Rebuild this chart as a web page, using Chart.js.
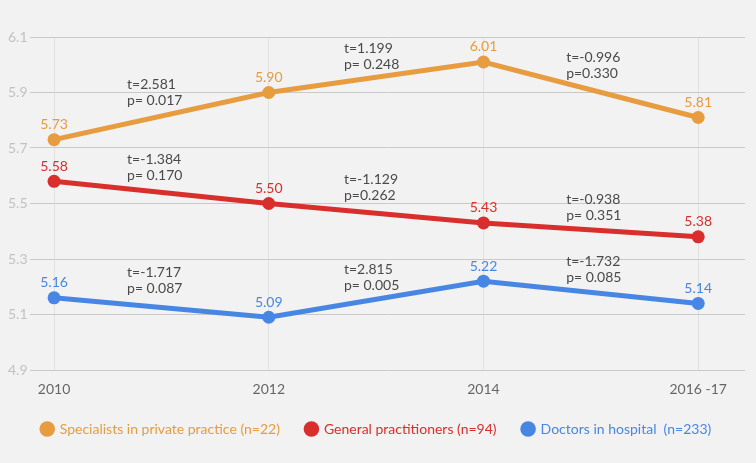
<!DOCTYPE html>
<html>
<head>
<meta charset="utf-8">
<script src="https://cdn.jsdelivr.net/npm/chart.js@4.4.1/dist/chart.umd.min.js"></script>
<style>
  html, body { margin: 0; padding: 0; background: #f2f2f2; }
  #wrap { width: 756px; height: 463px; }
</style>
</head>
<body>
<div id="wrap"><canvas id="myChart"></canvas></div>
<script>
const years = ['2010', '2012', '2014', '2016 -17'];
const yTicks = [4.9, 5.1, 5.3, 5.5, 5.7, 5.9, 6.1];

const seriesNames = [
  'Specialists in private practice (n=22)',
  'General practitioners (n=94)',
  'Doctors in hospital  (n=233)'
];
const specialists = [5.73, 5.90, 6.01, 5.81];
const generalPract = [5.58, 5.50, 5.43, 5.38];
const hospital = [5.16, 5.09, 5.22, 5.14];

// t / p statistics for each step between surveys
const specT = ['2.581', '1.199', '-0.996'];
const specP = ['0.017', '0.248', '0.330'];
const gpT = ['-1.384', '-1.129', '-0.938'];
const gpP = ['0.170', '0.262', '0.351'];
const hospT = ['-1.717', '2.815', '-1.732'];
const hospP = ['0.087', '0.005', '0.085'];

const colors = ['#e69c3f', '#d92f2c', '#4787e3'];
const FONT = 'Lato, "Noto Sans", sans-serif';

const allT = [specT, gpT, hospT];
const allP = [specP, gpP, hospP];

// label placement: how far (px) the p-line sits above the segment, and where along it
const statLift = [[23, 17, 10], [13, 15, 13], [16, 19, 12]];
const statFrac = [0.34, 0.35, 0.385];

const statsPlugin = {
  id: 'stats',
  afterDatasetsDraw(chart) {
    const ctx = chart.ctx;
    const xs = chart.scales.x, ys = chart.scales.y;
    ctx.save();
    ctx.textBaseline = 'middle';
    chart.data.datasets.forEach((ds, di) => {
      const pts = ds.data;
      // value labels
      ctx.font = '14px ' + FONT;
      ctx.fillStyle = colors[di];
      ctx.textAlign = 'center';
      pts.forEach(p => {
        ctx.fillText(p.y.toFixed(2), xs.getPixelForValue(p.x), ys.getPixelForValue(p.y) - 15);
      });
      // t / p labels
      ctx.fillStyle = '#4a4a4a';
      ctx.textAlign = 'left';
      for (let i = 0; i < pts.length - 1; i++) {
        const f = statFrac[i];
        const xv = pts[i].x + f;
        const yv = pts[i].y + (pts[i + 1].y - pts[i].y) * f;
        const px = xs.getPixelForValue(xv);
        const py = ys.getPixelForValue(yv) - statLift[di][i];
        ctx.fillText('t=' + allT[di][i], px, py - 16);
        const sep = (di === 0 && i === 2) || (di === 1 && i === 1) ? 'p=' : 'p= ';
        ctx.fillText(sep + allP[di][i], px, py);
      }
    });
    ctx.restore();
  }
};

const mkData = vals => vals.map((v, i) => ({x: i, y: v}));

new Chart(document.getElementById('myChart'), {
  type: 'line',
  data: {
    datasets: [specialists, generalPract, hospital].map((vals, i) => ({
      label: seriesNames[i],
      data: mkData(vals),
      borderColor: colors[i],
      backgroundColor: colors[i],
      borderWidth: 5,
      pointRadius: 6.5,
      pointHoverRadius: 6.5,
      pointBorderWidth: 0,
      tension: 0
    }))
  },
  options: {
    responsive: true,
    maintainAspectRatio: false,
    animation: false,
    layout: { padding: { top: 37, right: 11, left: 8, bottom: 17 } },
    plugins: {
      tooltip: { enabled: false },
      legend: {
        position: 'bottom',
        labels: {
          usePointStyle: true,
          pointStyle: 'circle',
          boxWidth: 11,
          boxHeight: 11,
          padding: 26,
          font: { family: FONT, size: 14 },
          generateLabels(chart) {
            return chart.data.datasets.map((ds, i) => ({
              text: ds.label,
              fillStyle: colors[i],
              strokeStyle: colors[i],
              fontColor: colors[i],
              lineWidth: 0,
              pointStyle: 'circle',
              datasetIndex: i
            }));
          }
        }
      }
    },
    scales: {
      x: {
        type: 'linear',
        min: -0.112,
        max: 3.218,
        afterBuildTicks(axis) { axis.ticks = years.map((_, i) => ({value: i})); },
        afterFit(axis) { axis.height = 26; },
        ticks: {
          callback: v => years[v],
          color: '#666',
          font: { family: FONT, size: 14 },
          padding: 11,
          autoSkip: false,
          maxRotation: 0
        },
        grid: { color: '#e1e1e1', lineWidth: 1, drawTicks: false },
        border: { display: false }
      },
      y: {
        min: 4.9,
        max: 6.1,
        afterBuildTicks(axis) { axis.ticks = yTicks.map(v => ({value: v})); },
        afterFit(axis) { axis.width = 22; },
        ticks: {
          callback: v => v.toFixed(1),
          color: '#c2c2c2',
          font: { family: FONT, size: 14 },
          crossAlign: 'far',
          padding: 4
        },
        grid: { color: '#c9c9c9', lineWidth: 1, drawTicks: false },
        border: { display: false }
      }
    }
  },
  plugins: [statsPlugin]
});
</script>
</body>
</html>
